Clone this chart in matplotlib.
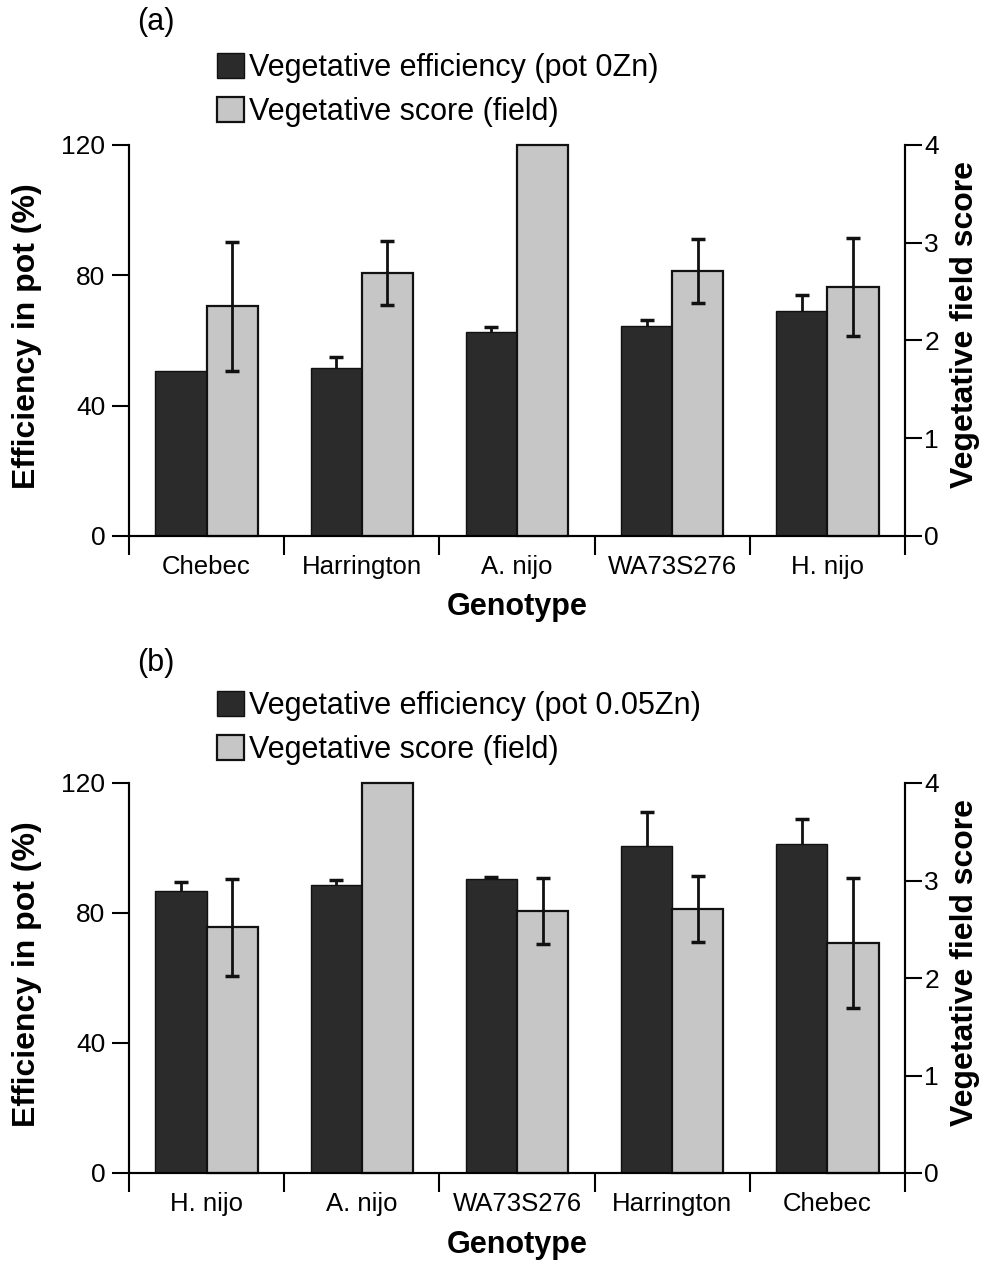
import matplotlib
matplotlib.use("Agg")
import matplotlib.pyplot as plt
import numpy as np

plt.rcParams['font.family'] = ['Liberation Sans', 'DejaVu Sans']

# ---- data ----
genotypes_a = ["Chebec", "Harrington", "A. nijo", "WA73S276", "H. nijo"]
pot_a = [50.7, 51.7, 62.7, 64.6, 69.2]
pot_err_a = [0.0, 3.3, 1.4, 1.7, 4.8]
field_a = [2.35, 2.69, 4.0, 2.71, 2.55]
field_err_a = [0.66, 0.33, 0.0, 0.33, 0.50]

genotypes_b = ["H. nijo", "A. nijo", "WA73S276", "Harrington", "Chebec"]
pot_b = [86.9, 88.5, 90.5, 100.7, 101.2]
pot_err_b = [2.5, 1.7, 0.5, 10.4, 7.8]
field_b = [2.52, 4.0, 2.69, 2.71, 2.36]
field_err_b = [0.50, 0.0, 0.34, 0.34, 0.67]

W, H = 986, 1263
fig = plt.figure(figsize=(W / 100, H / 100), dpi=100)

DARK = "#2b2b2b"
LIGHT = "#c6c6c6"


def fx(px):
    return px / W


def fy(py):
    return 1 - py / H


def panel(y_top, y_bot, cats, pot, pot_err, field, field_err,
          tag, tag_y, leg_label, leg_y, lab_y_off):
    ax = fig.add_axes([fx(129), fy(y_bot), fx(905) - fx(129), fy(y_top) - fy(y_bot)])
    ax2 = ax.twinx()
    n = len(cats)
    centers = np.arange(n) + 0.5
    bw = 0.33
    pe = np.array(pot_err)
    ax.errorbar(np.array(centers - bw / 2)[pe > 0], np.array(pot)[pe > 0],
                yerr=pe[pe > 0], fmt="none",
                ecolor="#111111", elinewidth=2, capsize=5, capthick=2.5, zorder=1)
    b1 = ax.bar(centers - bw / 2, pot, width=bw, color=DARK, edgecolor="#111111",
                linewidth=1.0, zorder=2)
    b2 = ax2.bar(centers + bw / 2, field, width=bw, color=LIGHT, edgecolor="#111111",
                 linewidth=1.6, zorder=2, clip_on=False)
    fe = np.array(field_err)
    ax2.errorbar(np.array(centers + bw / 2)[fe > 0], np.array(field)[fe > 0],
                 yerr=fe[fe > 0], fmt="none", ecolor="#111111", elinewidth=2,
                 capsize=5, capthick=2.5, zorder=3)

    ax.set_xlim(0, n)
    ax.set_ylim(0, 120)
    ax2.set_ylim(0, 4)
    ax.set_yticks([0, 40, 80, 120])
    ax2.set_yticks([0, 1, 2, 3, 4])
    for a in (ax, ax2):
        a.spines["top"].set_visible(False)
        for s in a.spines.values():
            s.set_linewidth(1.5)
    ax.tick_params(axis="y", direction="out", length=12, width=1.5, pad=5, labelsize=19)
    ax2.tick_params(axis="y", direction="out", length=12, width=1.5, pad=2, labelsize=19)
    ax.set_xticks(np.arange(n + 1))
    ax.set_xticklabels([])
    ax.set_xticks(centers, minor=True)
    ax.set_xticklabels(cats, minor=True, fontsize=18.5)
    ax.tick_params(axis="x", which="major", direction="out", length=14, width=1.5)
    ax.tick_params(axis="x", which="minor", length=0, pad=14)

    fig.text(fx(27), fy(y_top + (y_bot - y_top) * 0.49), "Efficiency in pot (%)",
             rotation=90, ha="center", va="center", fontsize=23, fontweight="bold")
    fig.text(fx(965), fy(y_top + (y_bot - y_top) * 0.46), "Vegetative field score",
             rotation=90, ha="center", va="center", fontsize=23, fontweight="bold")
    fig.text(fx(517), fy(y_bot + lab_y_off), "Genotype", ha="center", va="center",
             fontsize=22, fontweight="bold")
    fig.text(fx(156), fy(tag_y), tag, ha="center", va="center", fontsize=22)

    ax.legend([b1, b2], [leg_label, "Vegetative score (field)"],
              loc="center left", bbox_to_anchor=(fx(217), fy(leg_y)),
              bbox_transform=fig.transFigure, frameon=False, fontsize=22,
              handlelength=0.88, handleheight=0.9, handletextpad=0.18,
              labelspacing=0.45, borderpad=0, borderaxespad=0)
    return ax, ax2


panel(145, 536, genotypes_a, pot_a, pot_err_a, field_a, field_err_a,
      "(a)", 22, "Vegetative efficiency (pot 0Zn)", 90, 71)
panel(783, 1173, genotypes_b, pot_b, pot_err_b, field_b, field_err_b,
      "(b)", 663, "Vegetative efficiency (pot 0.05Zn)", 728, 72)

fig.savefig("out.png", dpi=100)
